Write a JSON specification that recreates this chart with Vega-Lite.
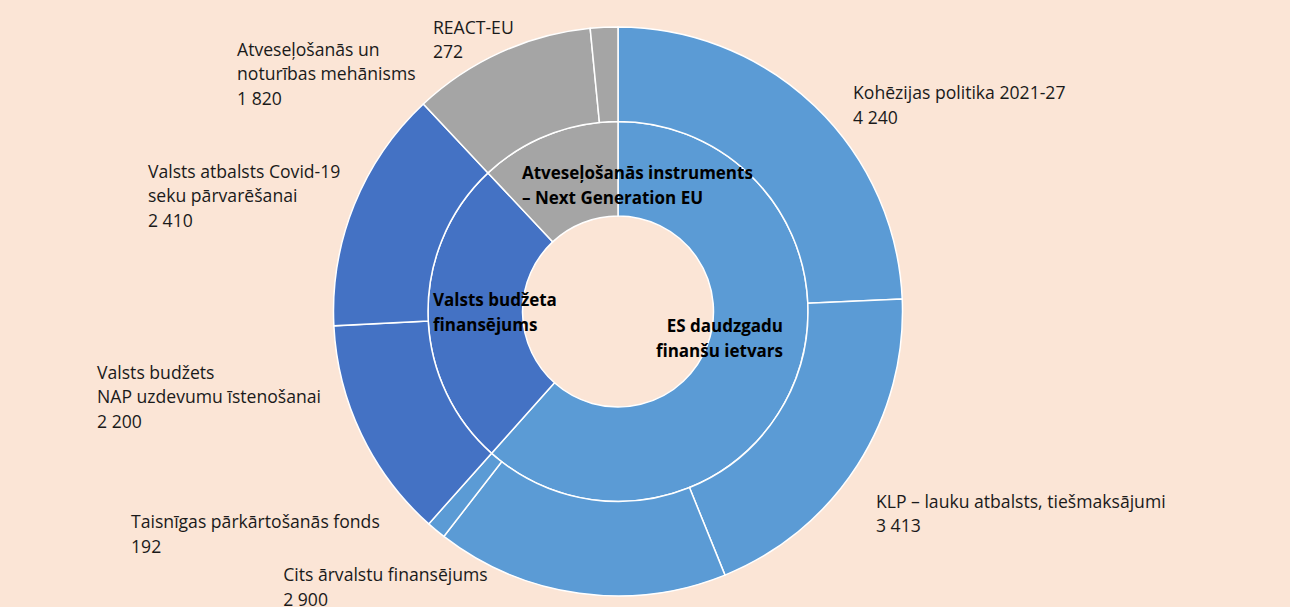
{
  "$schema": "https://vega.github.io/schema/vega-lite/v6.json",
  "width": 1236,
  "height": 623,
  "autosize": "none",
  "padding": {"left": 0, "top": 0, "right": 54, "bottom": 0},
  "background": "#FBE5D6",
  "config": {"view": {"stroke": null}, "text": {"font": "Open Sans"}},
  "datasets": {
    "outer": [
      {"i": 1, "name": "Kohēzijas politika 2021-27", "group": "ES", "value": 4240, "label": ["Kohēzijas politika 2021-27", "4 240"]},
      {"i": 2, "name": "KLP – lauku atbalsts, tiešmaksājumi", "group": "ES", "value": 3413, "label": ["KLP – lauku atbalsts, tiešmaksājumi", "3 413"]},
      {"i": 3, "name": "Cits ārvalstu finansējums", "group": "ES", "value": 2900, "label": ["Cits ārvalstu finansējums", "2 900"]},
      {"i": 4, "name": "Taisnīgas pārkārtošanās fonds", "group": "ES", "value": 192, "label": ["Taisnīgas pārkārtošanās fonds", "192"]},
      {"i": 5, "name": "Valsts budžets NAP uzdevumu īstenošanai", "group": "VB", "value": 2200, "label": ["Valsts budžets", "NAP uzdevumu īstenošanai", "2 200"]},
      {"i": 6, "name": "Valsts atbalsts Covid-19 seku pārvarēšanai", "group": "VB", "value": 2410, "label": ["Valsts atbalsts Covid-19", "seku pārvarēšanai", "2 410"]},
      {"i": 7, "name": "Atveseļošanās un noturības mehānisms", "group": "NG", "value": 1820, "label": ["Atveseļošanās un", "noturības mehānisms", "1 820"]},
      {"i": 8, "name": "REACT-EU", "group": "NG", "value": 272, "label": ["REACT-EU", "272"]}
    ],
    "inner": [
      {"i": 1, "name": "ES daudzgadu finanšu ietvars", "group": "ES", "value": 10745, "label": ["ES daudzgadu", "finanšu ietvars"]},
      {"i": 2, "name": "Valsts budžeta finansējums", "group": "VB", "value": 4610, "label": ["Valsts budžeta", "finansējums"]},
      {"i": 3, "name": "Atveseļošanās instruments – Next Generation EU", "group": "NG", "value": 2092, "label": ["Atveseļošanās instruments", "– Next Generation EU"]}
    ]
  },
  "encoding": {
    "theta": {"field": "value", "type": "quantitative", "stack": true},
    "order": {"field": "i", "type": "quantitative"}
  },
  "layer": [
    {
      "data": {"name": "inner"},
      "mark": {"type": "arc", "radius": 190, "radius2": 95.5, "stroke": "#FFFFFF", "strokeWidth": 1.5},
      "encoding": {
        "color": {"field": "group", "type": "nominal", "scale": {"domain": ["ES", "VB", "NG"], "range": ["#5B9BD5", "#4472C4", "#A5A5A5"]}, "legend": null}
      }
    },
    {
      "data": {"name": "outer"},
      "mark": {"type": "arc", "radius": 284.5, "radius2": 190, "stroke": "#FFFFFF", "strokeWidth": 1.5},
      "encoding": {
        "color": {"field": "group", "type": "nominal", "legend": null}
      }
    },
    {
      "data": {"name": "outer"},
      "mark": {"type": "text", "radius": 300, "align": "left", "baseline": "alphabetic", "dx": 27.6, "dy": 4.3, "fontSize": 17.6, "lineHeight": 24.5, "color": "#1A1A1A"},
      "encoding": {"text": {"condition": {"test": "datum.i === 1", "field": "label", "type": "nominal"}, "value": ""}}
    },
    {
      "data": {"name": "outer"},
      "mark": {"type": "text", "radius": 300, "align": "left", "baseline": "alphabetic", "dx": 5.5, "dy": 34.4, "fontSize": 17.6, "lineHeight": 24.5, "color": "#1A1A1A"},
      "encoding": {"text": {"condition": {"test": "datum.i === 2", "field": "label", "type": "nominal"}, "value": ""}}
    },
    {
      "data": {"name": "outer"},
      "mark": {"type": "text", "radius": 300, "align": "left", "baseline": "alphabetic", "dx": -294, "dy": -27.7, "fontSize": 17.6, "lineHeight": 24.5, "color": "#1A1A1A"},
      "encoding": {"text": {"condition": {"test": "datum.i === 3", "field": "label", "type": "nominal"}, "value": ""}}
    },
    {
      "data": {"name": "outer"},
      "mark": {"type": "text", "radius": 300, "align": "left", "baseline": "alphabetic", "dx": -295.2, "dy": -14.2, "fontSize": 17.6, "lineHeight": 24.5, "color": "#1A1A1A"},
      "encoding": {"text": {"condition": {"test": "datum.i === 4", "field": "label", "type": "nominal"}, "value": ""}}
    },
    {
      "data": {"name": "outer"},
      "mark": {"type": "text", "radius": 300, "align": "left", "baseline": "alphabetic", "dx": -250.4, "dy": -62.1, "fontSize": 17.6, "lineHeight": 24.5, "color": "#1A1A1A"},
      "encoding": {"text": {"condition": {"test": "datum.i === 5", "field": "label", "type": "nominal"}, "value": ""}}
    },
    {
      "data": {"name": "outer"},
      "mark": {"type": "text", "radius": 300, "align": "left", "baseline": "alphabetic", "dx": -191.8, "dy": -21.3, "fontSize": 17.6, "lineHeight": 24.5, "color": "#1A1A1A"},
      "encoding": {"text": {"condition": {"test": "datum.i === 6", "field": "label", "type": "nominal"}, "value": ""}}
    },
    {
      "data": {"name": "outer"},
      "mark": {"type": "text", "radius": 300, "align": "left", "baseline": "alphabetic", "dx": -257.1, "dy": 17.7, "fontSize": 17.6, "lineHeight": 24.5, "color": "#1A1A1A"},
      "encoding": {"text": {"condition": {"test": "datum.i === 7", "field": "label", "type": "nominal"}, "value": ""}}
    },
    {
      "data": {"name": "outer"},
      "mark": {"type": "text", "radius": 300, "align": "left", "baseline": "alphabetic", "dx": -170.4, "dy": 22.1, "fontSize": 17.6, "lineHeight": 24.5, "color": "#1A1A1A"},
      "encoding": {"text": {"condition": {"test": "datum.i === 8", "field": "label", "type": "nominal"}, "value": ""}}
    },
    {
      "data": {"name": "inner"},
      "mark": {"type": "text", "radius": 143, "align": "right", "baseline": "alphabetic", "dx": 31.4, "dy": -30.4, "fontSize": 17, "fontWeight": "bold", "lineHeight": 24.5, "color": "#000000"},
      "encoding": {"text": {"condition": {"test": "datum.i === 1", "field": "label", "type": "nominal"}, "value": ""}}
    },
    {
      "data": {"name": "inner"},
      "mark": {"type": "text", "radius": 143, "align": "left", "baseline": "alphabetic", "dx": -42, "dy": -7.3, "fontSize": 17, "fontWeight": "bold", "lineHeight": 24.5, "color": "#000000"},
      "encoding": {"text": {"condition": {"test": "datum.i === 2", "field": "label", "type": "nominal"}, "value": ""}}
    },
    {
      "data": {"name": "inner"},
      "mark": {"type": "text", "radius": 143, "align": "left", "baseline": "alphabetic", "dx": -43.4, "dy": 0.5, "fontSize": 17, "fontWeight": "bold", "lineHeight": 24.5, "color": "#000000"},
      "encoding": {"text": {"condition": {"test": "datum.i === 3", "field": "label", "type": "nominal"}, "value": ""}}
    }
  ]
}
